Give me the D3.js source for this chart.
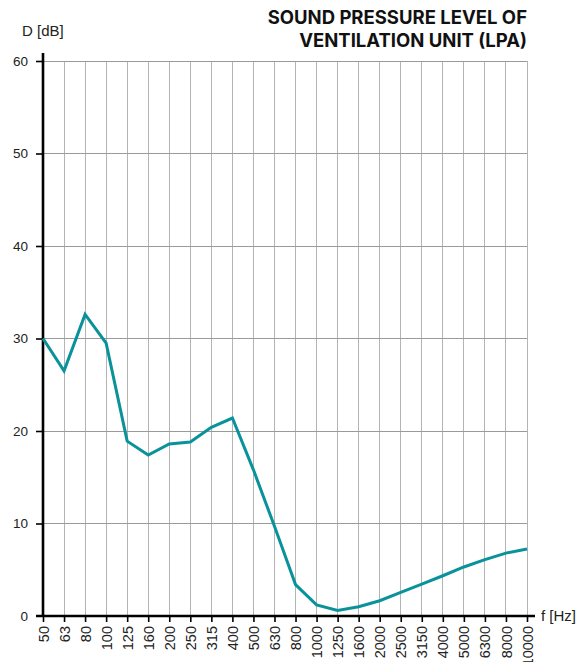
<!DOCTYPE html>
<html>
<head>
<meta charset="utf-8">
<script src="https://cdn.jsdelivr.net/npm/d3@7"></script>
<style>
  html, body { margin: 0; padding: 0; background: #fff; }
  svg { display: block; }
</style>
</head>
<body>
<svg id="chart" width="585" height="662"></svg>
<script>
// Third-octave band centre frequencies (Hz)
const frequencies = ["50", "63", "80", "100", "125", "160", "200", "250", "315", "400",
  "500", "630", "800", "1000", "1250", "1600", "2000", "2500", "3150", "4000",
  "5000", "6300", "8000", "10000"];

// A-weighted sound pressure level per band (dB)
const levels = [30.0, 26.5, 32.6, 29.5, 18.9, 17.4, 18.6, 18.8, 20.4, 21.4,
  15.8, 9.7, 3.4, 1.2, 0.6, 1.0, 1.65, 2.55, 3.45, 4.35,
  5.3, 6.1, 6.8, 7.25];

const yTicks = [0, 10, 20, 30, 40, 50, 60];

const titleLines = ["SOUND PRESSURE LEVEL OF", "VENTILATION UNIT (LPA)"];

const svg = d3.select("#chart");
const plotLeft = 43, plotRight = 527, plotTop = 61, plotBottom = 616;
const labelFont = "Liberation Sans, Arial, sans-serif";

const x = d3.scalePoint().domain(frequencies).range([plotLeft, plotRight]);
const y = d3.scaleLinear().domain([0, 60]).range([plotBottom, plotTop]);

// Grid
const grid = svg.append("g").attr("shape-rendering", "crispEdges");
grid.selectAll("line.v").data(frequencies.slice(1)).join("line")
  .attr("class", "v")
  .attr("x1", d => x(d)).attr("x2", d => x(d))
  .attr("y1", plotTop).attr("y2", plotBottom)
  .attr("stroke", "#b4b4b4").attr("stroke-width", 1);
grid.selectAll("line.h").data(yTicks.slice(1)).join("line")
  .attr("class", "h")
  .attr("x1", plotLeft).attr("x2", plotRight)
  .attr("y1", d => y(d)).attr("y2", d => y(d))
  .attr("stroke", "#9a9a9a").attr("stroke-width", 1);

// Y axis
const yAxis = svg.append("g").attr("transform", `translate(${plotLeft},0)`)
  .call(d3.axisLeft(y).tickValues(yTicks).tickSize(7).tickPadding(8).tickFormat(d3.format("d")));
yAxis.select(".domain").remove();
yAxis.selectAll(".tick line").attr("stroke", "#000").attr("stroke-width", 1.6);
yAxis.selectAll(".tick text")
  .attr("font-family", labelFont)
  .attr("font-size", 13.5).attr("fill", "#222");
yAxis.selectAll(".tick").filter(d => d === 0).select("line").remove();

// X axis
const xAxis = svg.append("g").attr("transform", `translate(0,${plotBottom})`)
  .call(d3.axisBottom(x).tickSize(6).tickPadding(5));
xAxis.select(".domain").remove();
xAxis.selectAll(".tick line").attr("stroke", "#000").attr("stroke-width", 1.6);
xAxis.selectAll(".tick text")
  .attr("font-family", labelFont)
  .attr("font-size", 14.5).attr("fill", "#222")
  .attr("transform", "rotate(-90)")
  .attr("text-anchor", "end")
  .attr("x", -10).attr("y", 0).attr("dy", "0.35em");

// Axis lines
svg.append("line")
  .attr("x1", plotLeft).attr("x2", plotLeft).attr("y1", plotTop - 8).attr("y2", plotBottom + 1)
  .attr("stroke", "#000").attr("stroke-width", 2.6);
svg.append("line")
  .attr("x1", plotLeft - 7).attr("x2", plotRight + 8).attr("y1", plotBottom).attr("y2", plotBottom)
  .attr("stroke", "#000").attr("stroke-width", 2.6);

// Curve
const line = d3.line()
  .x((d, i) => x(frequencies[i]))
  .y(d => y(d));
svg.append("path")
  .datum(levels)
  .attr("d", line)
  .attr("fill", "none")
  .attr("stroke", "#0a929b")
  .attr("stroke-width", 3)
  .attr("stroke-linejoin", "miter");

// Axis titles
svg.append("text")
  .attr("x", 22).attr("y", 36)
  .attr("font-family", labelFont)
  .attr("font-size", 15).attr("fill", "#222")
  .text("D [dB]");
svg.append("text")
  .attr("x", 541).attr("y", 621)
  .attr("font-family", labelFont)
  .attr("font-size", 15).attr("fill", "#222")
  .text("f [Hz]");

// Chart title
svg.append("text")
  .attr("text-anchor", "end")
  .attr("font-family", "Inter, Roboto, sans-serif")
  .attr("font-weight", 700)
  .attr("font-size", 18.5)
  .attr("fill", "#111")
  .selectAll("tspan").data(titleLines).join("tspan")
  .attr("x", 527)
  .attr("y", (d, i) => 24 + i * 23)
  .text(d => d);
</script>
</body>
</html>
